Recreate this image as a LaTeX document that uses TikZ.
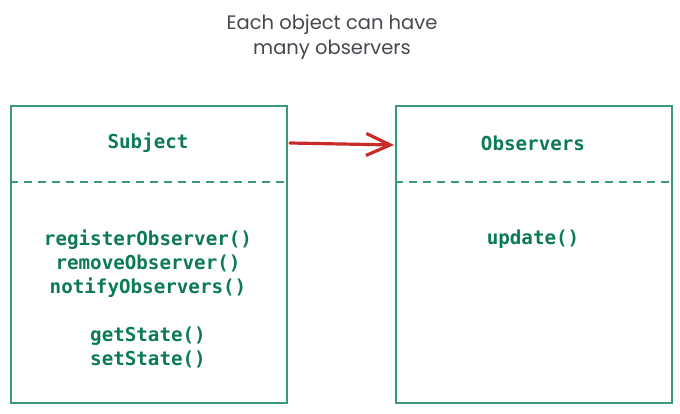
\documentclass[tikz,border=0pt]{standalone}
\usepackage{fontspec}
\setmainfont{Poppins}
\setmonofont{DejaVu Sans Mono}
\usetikzlibrary{arrows.meta}
\definecolor{boxgreen}{HTML}{3A9A74}
\definecolor{txtgreen}{HTML}{0B7A55}
\definecolor{arrowred}{HTML}{C92A2A}
\definecolor{titlegray}{HTML}{45484F}
\begin{document}
\begin{tikzpicture}[x=1pt,y=-1pt,
  classbox/.style={draw=boxgreen,line width=1.5pt,minimum width=276pt,minimum height=297pt,anchor=north west,inner sep=0pt},
  sep/.style={draw=boxgreen,line width=1.5pt,dash pattern=on 8pt off 6pt},
  code/.style={text=txtgreen,font=\ttfamily\bfseries\fontsize{19.2}{24}\selectfont,align=center,inner sep=0pt},
  link/.style={draw=arrowred,line width=3.2pt,line cap=round,-{Straight Barb[length=24pt,width=22pt,line width=3.2pt]}},
  note/.style={text=titlegray,font=\fontsize{19.5}{25}\selectfont,align=center,inner sep=0pt}]
\useasboundingbox (0,0) rectangle (680,413);
\node[note] (title) at (332,37) {Each object can have\\many observers};
\node[classbox] (subj) at (10,105) {};
\node[classbox] (obs) at (395,105) {};
\coordinate (s1) at (10,182);
\coordinate (s2) at (286,182);
\coordinate (o1) at (395,182);
\coordinate (o2) at (671,182);
\draw[sep] (s1) -- (s2);
\draw[sep] (o1) -- (o2);
\node[code] (sname) at (148,143) {Subject};
\node[code] (oname) at (533,143) {Observers};
\node[code,anchor=north] (smeth) at (148,230) {registerObserver()\\removeObserver()\\notifyObservers()\\[24pt]getState()\\setState()};
\node[code,anchor=north] (ometh) at (533,230) {update()};
\coordinate (a1) at (290,143);
\coordinate (a2) at (394,145);
\draw[link] (a1) -- (a2);
\end{tikzpicture}
\end{document}
